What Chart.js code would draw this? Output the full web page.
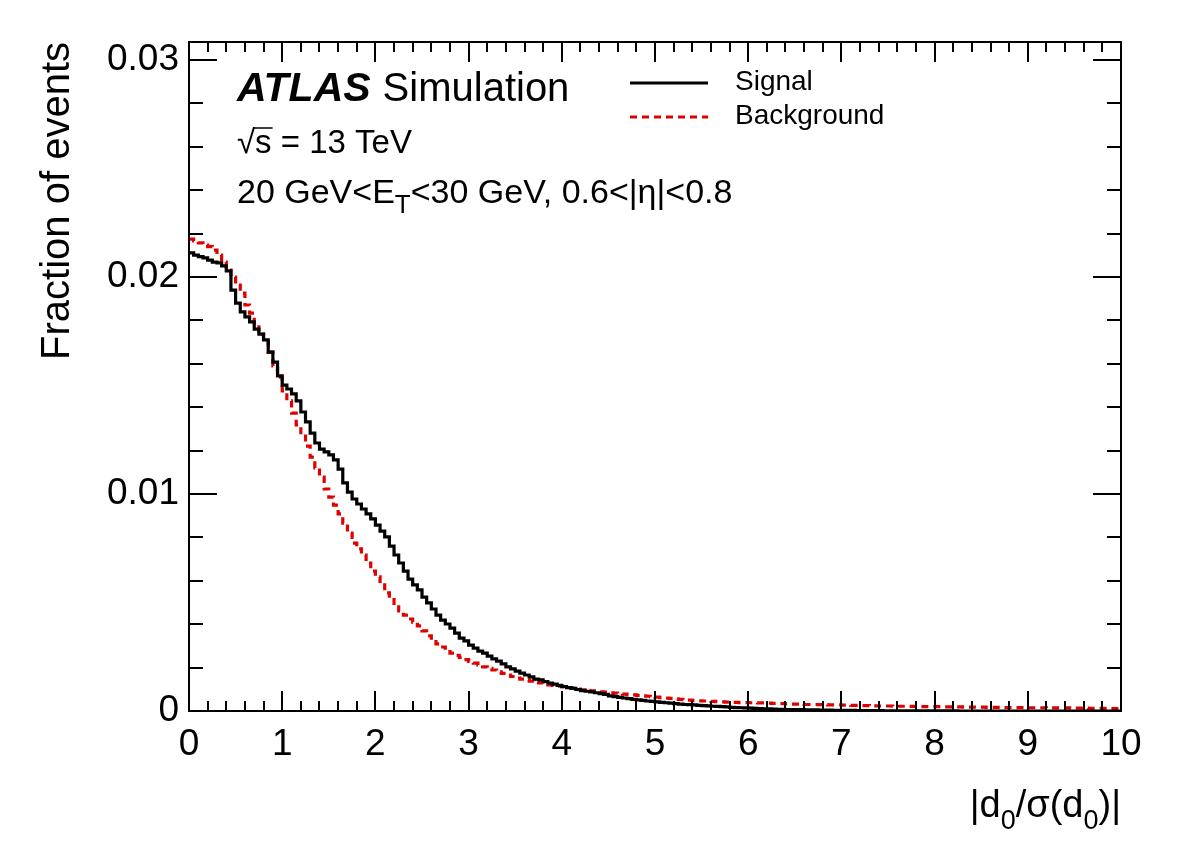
<!DOCTYPE html>
<html><head><meta charset="utf-8">
<script src="https://cdn.jsdelivr.net/npm/chart.js@4.4.0/dist/chart.umd.min.js"></script>
<style>html,body{margin:0;padding:0;background:#fff}canvas{display:block}</style>
</head><body>
<canvas id="c" width="1182" height="848"></canvas>
<script>
// ---- data ----
const binWidth = 0.05;
const xRange = [0, 10];
const yRange = [0, 0.03083];
const xTickValues = [0,1,2,3,4,5,6,7,8,9,10];
const xTickLabels = ['0','1','2','3','4','5','6','7','8','9','10'];
const yTickValues = [0, 0.01, 0.02, 0.03];
const yTickLabels = ['0','0.01','0.02','0.03'];
const seriesNames = ['Signal', 'Background'];

const signal = [
0.02111,0.02101,0.02094,0.02088,0.02078,0.02069,0.02065,0.02051,0.02028,0.0194,
0.0188,0.01839,0.01816,0.01793,0.0176,0.01737,0.0171,0.01654,0.01608,0.01544,
0.01502,0.01484,0.01461,0.01429,0.01378,0.01332,0.01281,0.01235,0.01207,0.01194,
0.0118,0.01157,0.01115,0.01051,0.01009,0.00977,0.00954,0.00931,0.00908,0.00885,
0.00857,0.00829,0.00802,0.0076,0.00719,0.00682,0.00645,0.00608,0.00581,0.00558,
0.00525,0.00498,0.0047,0.00442,0.00419,0.00401,0.00382,0.00359,0.00336,0.00323,
0.00304,0.0029,0.00276,0.00267,0.00253,0.0024,0.0023,0.00217,0.00203,0.00194,
0.00184,0.00175,0.00166,0.00157,0.00147,0.00143,0.00136,0.00129,0.00124,0.00118,
0.00113,0.00108,0.00104,0.00099,0.00094,0.00091,0.00088,0.00084,0.0008,0.00077,
0.0007,0.00066,0.00063,0.0006,0.00057,0.00054,0.00051,0.00049,0.00046,0.00044,
0.00042,0.0004,0.00038,0.00036,0.00034,0.00032,0.0003,0.00029,0.00028,0.00026,
0.00025,0.00024,0.00022,0.00021,0.0002,0.00019,0.00017,0.00016,0.00015,0.00014,
0.00013,0.00012,0.00011,0.0001,0.0001,0.00009,0.00008,0.00008,0.00007,0.00007,
0.00006,0.00006,0.00005,0.00005,0.00005,0.00004,0.00004,0.00004,0.00003,0.00003,
0.00003,0.00003,0.00003,0.00002,0.00002,0.00002,0.00002,0.00002,0.00002,0.00001,
0.00001,0.00001,0.00001,0.00001,0.00001,0.00001,0.00001,0.00001,0.00001,0.00001,
0.00001,0.00001,0.00001,0.00001,0.00001,0,0,0,0,0,
0,0,0,0,0,0,0,0,0,0,
0,0,0,0,0,0,0,0,0,0,
0,0,0,0,0,0,0,0,0,0
];

const background = [
0.02175,0.02166,0.02157,0.02147,0.0214,0.02124,0.02101,0.02069,0.02032,0.02,
0.01963,0.01926,0.01871,0.01834,0.01788,0.01751,0.01714,0.01654,0.0159,0.01539,
0.01475,0.01429,0.01373,0.01318,0.01267,0.01221,0.0117,0.0112,0.01078,0.01023,
0.00986,0.00949,0.00908,0.00866,0.0082,0.00774,0.00747,0.00719,0.00682,0.00645,
0.00618,0.00581,0.00544,0.00521,0.00488,0.00461,0.00442,0.00424,0.0041,0.00392,
0.00369,0.00346,0.00327,0.00309,0.00295,0.00281,0.00267,0.00256,0.00247,0.00237,
0.00228,0.00221,0.00212,0.00203,0.00196,0.00189,0.0018,0.00173,0.00166,0.00159,
0.00152,0.00147,0.00143,0.00138,0.00134,0.00129,0.00124,0.0012,0.00118,0.00115,
0.00111,0.00108,0.00105,0.00101,0.00098,0.00095,0.00093,0.00091,0.00088,0.00087,
0.00084,0.00082,0.0008,0.00078,0.00076,0.00074,0.00072,0.0007,0.00068,0.00066,
0.00064,0.00062,0.0006,0.00058,0.00056,0.00054,0.00052,0.0005,0.00048,0.00047,
0.00046,0.00045,0.00044,0.00043,0.00042,0.00041,0.0004,0.0004,0.00039,0.00039,
0.00038,0.00038,0.00037,0.00037,0.00036,0.00035,0.00034,0.00034,0.00033,0.00032,
0.00032,0.00031,0.0003,0.0003,0.0003,0.00029,0.00029,0.00028,0.00028,0.00028,
0.00027,0.00027,0.00026,0.00026,0.00025,0.00025,0.00024,0.00024,0.00023,0.00023,
0.00023,0.00022,0.00022,0.00022,0.00021,0.00021,0.00021,0.0002,0.0002,0.0002,
0.0002,0.0002,0.00019,0.00019,0.00019,0.00019,0.00018,0.00018,0.00018,0.00018,
0.00018,0.00017,0.00017,0.00017,0.00017,0.00016,0.00016,0.00016,0.00016,0.00016,
0.00015,0.00015,0.00015,0.00015,0.00014,0.00014,0.00014,0.00014,0.00014,0.00013,
0.00013,0.00013,0.00013,0.00012,0.00012,0.00012,0.00012,0.00011,0.00011,0.00011
];

// ---- helpers ----
const FONT = '"Liberation Sans", Arial, Helvetica, sans-serif';
function toHist(vals) {
  const pts = vals.map((v, i) => ({ x: xRange[0] + i * binWidth, y: v }));
  pts.push({ x: xRange[0] + vals.length * binWidth, y: vals[vals.length - 1] });
  return pts;
}
function font(size, weight, style) {
  return (style || 'normal') + ' ' + (weight || 'normal') + ' ' + size + 'px ' + FONT;
}
function drawRich(ctx, segs, x, y, align) {
  let w = 0;
  segs.forEach(s => { ctx.font = font(s.size, s.weight, s.style); s.w = ctx.measureText(s.t).width; w += s.w + (s.gap || 0); });
  let cx = align === 'right' ? x - w : x;
  ctx.textAlign = 'left';
  ctx.textBaseline = 'alphabetic';
  segs.forEach(s => {
    ctx.font = font(s.size, s.weight, s.style);
    ctx.fillText(s.t, cx, y + (s.dy || 0));
    s.x = cx;
    cx += s.w + (s.gap || 0);
  });
  return segs;
}

const overlay = {
  id: 'overlay',
  afterDraw(chart) {
    const ctx = chart.ctx, a = chart.chartArea;
    const xs = chart.scales.x, ys = chart.scales.y;
    ctx.save();
    ctx.strokeStyle = '#000';
    ctx.fillStyle = '#000';
    // frame
    ctx.lineWidth = 2;
    ctx.strokeRect(a.left, a.top, a.right - a.left, a.bottom - a.top);
    // x ticks (major + minor), bottom & top, inward
    ctx.lineWidth = 2;
    ctx.beginPath();
    for (let k = 0; k <= 50; k++) {
      const v = xRange[0] + k * 0.2;
      const px = Math.round(xs.getPixelForValue(v));
      const len = (k % 5 === 0) ? 20 : 10;
      ctx.moveTo(px, a.bottom); ctx.lineTo(px, a.bottom - len);
      ctx.moveTo(px, a.top); ctx.lineTo(px, a.top + len);
    }
    // y ticks
    for (let k = 0; k <= 15; k++) {
      const v = k * 0.002;
      if (v > yRange[1]) break;
      const py = Math.round(ys.getPixelForValue(v));
      const len = (k % 5 === 0) ? 28 : 14;
      ctx.moveTo(a.left, py); ctx.lineTo(a.left + len, py);
      ctx.moveTo(a.right, py); ctx.lineTo(a.right - len, py);
    }
    ctx.stroke();

    // tick labels
    ctx.font = font(37);
    ctx.textAlign = 'center'; ctx.textBaseline = 'middle';
    xTickValues.forEach((v, i) => ctx.fillText(xTickLabels[i], xs.getPixelForValue(v), 745));
    ctx.textAlign = 'right';
    yTickValues.forEach((v, i) => ctx.fillText(yTickLabels[i], 179, ys.getPixelForValue(v)));

    // x title
    drawRich(ctx, [
      { t: '|d', size: 38 },
      { t: '0', size: 27, dy: 12 },
      { t: '/\u03C3(d', size: 38 },
      { t: '0', size: 27, dy: 12 },
      { t: ')|', size: 38 }
    ], a.right, 817, 'right');

    // y title
    ctx.save();
    ctx.translate(58, a.top);
    ctx.rotate(-Math.PI / 2);
    ctx.font = font(40);
    ctx.textAlign = 'right'; ctx.textBaseline = 'middle';
    ctx.fillText('Fraction of events', 0, 0);
    ctx.restore();

    // ATLAS label
    drawRich(ctx, [
      { t: 'ATLAS', size: 41, weight: 'bold', style: 'italic', gap: 12 },
      { t: 'Simulation', size: 40 }
    ], 237, 101, 'left');
    // sqrt(s)
    const s1 = drawRich(ctx, [
      { t: '\u221A', size: 33 },
      { t: 's', size: 33 },
      { t: ' = 13 TeV', size: 33 }
    ], 237, 153, 'left');
    ctx.lineWidth = 1.5;
    ctx.beginPath();
    ctx.moveTo(s1[1].x - 1, 128); ctx.lineTo(s1[1].x + s1[1].w + 1, 128);
    ctx.stroke();
    // kinematic range
    drawRich(ctx, [
      { t: '20 GeV<E', size: 34 },
      { t: 'T', size: 26, dy: 10 },
      { t: '<30 GeV, 0.6<|\u03B7|<0.8', size: 34 }
    ], 237, 203, 'left');

    // legend
    ctx.lineWidth = 3;
    ctx.strokeStyle = '#000';
    ctx.setLineDash([]);
    ctx.beginPath(); ctx.moveTo(630, 83); ctx.lineTo(708, 83); ctx.stroke();
    ctx.strokeStyle = 'rgb(225,0,0)';
    ctx.setLineDash([7, 5]);
    ctx.beginPath(); ctx.moveTo(630, 117); ctx.lineTo(708, 117); ctx.stroke();
    ctx.setLineDash([]);
    ctx.fillStyle = '#000';
    ctx.font = font(28);
    ctx.textAlign = 'left'; ctx.textBaseline = 'middle';
    ctx.fillText(seriesNames[0], 735, 82);
    ctx.fillText(seriesNames[1], 735, 116);
    ctx.restore();
  }
};

new Chart(document.getElementById('c'), {
  type: 'line',
  data: {
    datasets: [
      { label: seriesNames[0], data: toHist(signal), borderColor: '#000', borderWidth: 3.2,
        stepped: 'before', pointRadius: 0, fill: false, tension: 0 },
      { label: seriesNames[1], data: toHist(background), borderColor: 'rgb(225,0,0)', borderWidth: 3.2,
        borderDash: [7, 5], stepped: 'before', pointRadius: 0, fill: false, tension: 0 }
    ]
  },
  options: {
    responsive: false,
    animation: false,
    devicePixelRatio: 1,
    layout: { padding: { left: 189, right: 61, top: 42, bottom: 137 } },
    plugins: { legend: { display: false }, tooltip: { enabled: false } },
    scales: {
      x: { type: 'linear', min: xRange[0], max: xRange[1], display: false },
      y: { type: 'linear', min: yRange[0], max: yRange[1], display: false }
    }
  },
  plugins: [overlay]
});
</script>
</body></html>
